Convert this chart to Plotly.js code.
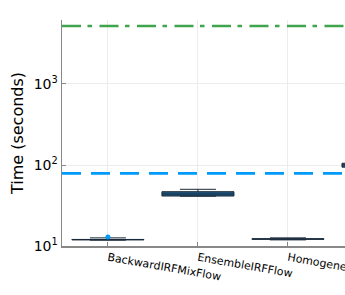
<!DOCTYPE html>
<html>
<head>
<meta charset="utf-8">
<script src="https://cdn.plot.ly/plotly-3.0.1.min.js"></script>
<style>html,body{margin:0;padding:0;overflow:hidden;background:#fff;width:345px;height:295px;}#plot{width:430px;height:295px;}</style>
</head>
<body>
<div id="plot"></div>
<script>
const categories = ["BackwardIRFMixFlow", "EnsembleIRFFlow", "HomogeneousFlow", "InhomogeneousFlow"];
const lowerFence = [11.8, 41.2, 11.9, 93];
const q1 = [11.9, 41.4, 12.1, 94];
const median = [12.0, 43.8, 12.2, 100];
const q3 = [12.05, 46.8, 12.3, 105];
const upperFence = [12.6, 50.1, 12.6, 106];
const outlierCat = ["BackwardIRFMixFlow"];
const outlierVal = [12.9];
const refBlue = 79;
const refGreen = 5200;
const yTickVals = [10, 100, 1000];
const yTickText = ["10<sup>1</sup>", "10<sup>2</sup>", "10<sup>3</sup>"];

const traces = [
  {
    type: "box", x: categories, q1: q1, median: median, q3: q3,
    lowerfence: lowerFence, upperfence: upperFence,
    width: 0.8, whiskerwidth: 0.5, boxpoints: false,
    fillcolor: "#1f5a85", line: {color: "#1a2a3a", width: 1}, showlegend: false, hoverinfo: "skip"
  },
  {
    type: "scatter", mode: "markers", x: outlierCat, y: outlierVal,
    marker: {color: "#009AFA", size: 5}, showlegend: false, cliponaxis: false
  }
];

const layout = {
  width: 430, height: 295,
  margin: {l: 62, r: 7, t: 20, b: 49},
  paper_bgcolor: "#fff", plot_bgcolor: "#fff",
  font: {family: "DejaVu Sans", color: "#000"},
  showlegend: false,
  xaxis: {
    type: "category", categoryarray: categories, range: [-0.51, 3.5],
    showgrid: true, gridcolor: "#ececec", gridwidth: 1,
    showline: true, linecolor: "#888", linewidth: 1.5, mirror: false,
    ticks: "inside", ticklen: 4, tickcolor: "#888",
    tickangle: 10, tickfont: {size: 11, family: "DejaVu Sans"}, zeroline: false
  },
  yaxis: {
    type: "log", range: [1, 3.79],
    tickvals: yTickVals, ticktext: yTickText,
    showgrid: true, gridcolor: "#ececec", gridwidth: 1,
    showline: true, linecolor: "#888", linewidth: 1.5,
    ticks: "inside", ticklen: 4, tickcolor: "#888",
    tickfont: {size: 14, family: "DejaVu Sans"}, zeroline: false,
    title: {text: "Time (seconds)", font: {size: 16, family: "DejaVu Sans"}, standoff: 6}
  },
  shapes: [
    {type: "line", xref: "paper", x0: 0, x1: 1, yref: "y", y0: refBlue, y1: refBlue,
     line: {color: "#009AFA", width: 2.8, dash: "19px,10px"}},
    {type: "line", xref: "paper", x0: 0, x1: 1, yref: "y", y0: refGreen, y1: refGreen,
     line: {color: "#3EA44E", width: 2.6, dash: "19px,6.5px,4.5px,7.5px"}}
  ]
};

Plotly.newPlot("plot", traces, layout, {displayModeBar: false, staticPlot: true});
</script>
</body>
</html>
